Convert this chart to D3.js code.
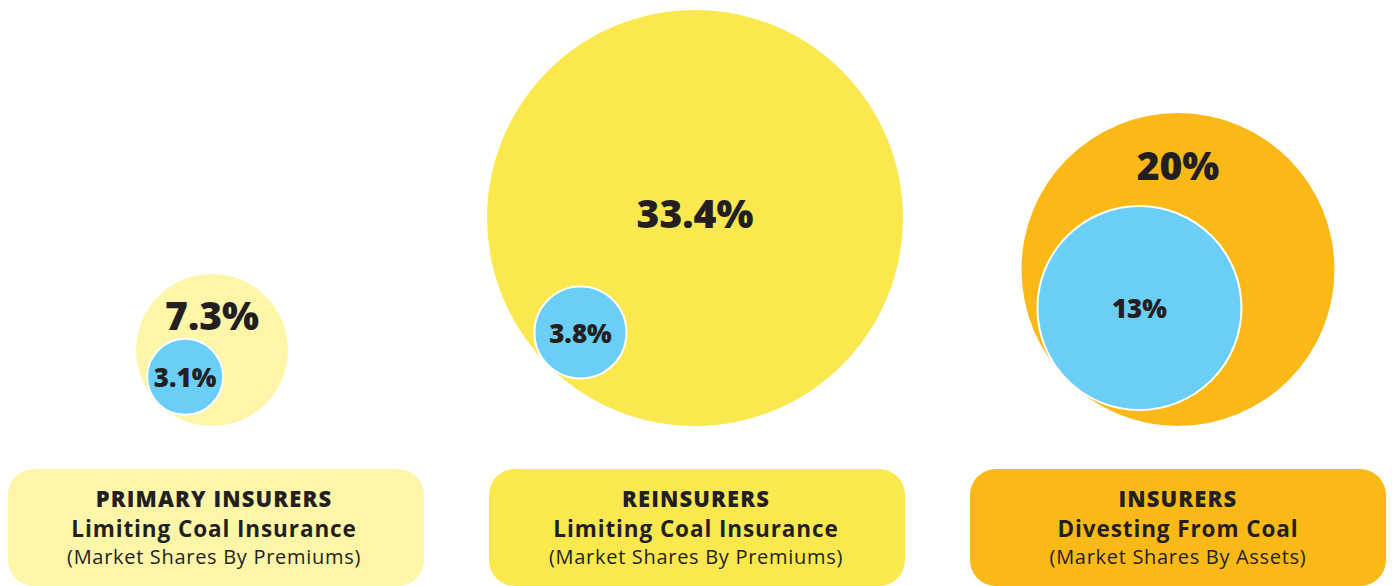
<!DOCTYPE html>
<html>
<head>
<meta charset="utf-8">
<script src="https://cdn.jsdelivr.net/npm/d3@7"></script>
<style>
  html, body { margin: 0; padding: 0; background: #fff; }
  svg { display: block; }
</style>
</head>
<body>
<div id="chart"></div>
<script>
// data
const panels = ["primary", "reinsurers", "insurers"];
const outerValues = [7.3, 33.4, 20];
const innerValues = [3.1, 3.8, 13];
const titleLines = ["PRIMARY INSURERS", "REINSURERS", "INSURERS"];
const subtitleLines = ["Limiting Coal Insurance", "Limiting Coal Insurance", "Divesting From Coal"];
const noteLines = ["(Market Shares By Premiums)", "(Market Shares By Premiums)", "(Market Shares By Assets)"];

// look
const outerColors = ["#fdf6a8", "#fae84e", "#fbb917"];
const innerColor = "#6acef6";
const ink = "#231f20";

const width = 1392, height = 586;
const baseY = 426;          // circles sit on this line
const outerLabelShift = [-0.45, -0.02, -0.66]; // label offset as share of radius
const circleNudge = [-4, -2, 0];

const svg = d3.select("#chart")
    .append("svg")
    .attr("width", width)
    .attr("height", height);

const x = d3.scaleBand()
    .domain(panels)
    .range([8, 1386])
    .paddingInner(0.135)
    .paddingOuter(0);

// the original isn't drawn to one area scale, so map each value to the radius it was given
const r = d3.scaleLinear()
    .domain([0, 3.1, 3.8, 7.3, 13, 20, 33.4])
    .range([0, 38, 46, 76, 102, 156.5, 208]);

const fmt = v => `${v}%`;

const g = svg.selectAll("g.panel")
    .data(panels)
    .join("g")
    .attr("class", "panel");

g.each(function (p, i) {
    const sel = d3.select(this);
    const cx = x(p) + x.bandwidth() / 2 + circleNudge[i];
    const R = r(outerValues[i]);
    const cy = baseY - R;
    const ri = r(innerValues[i]);
    // inner circle tucked into the lower-left of the outer one
    const d = (R - ri) / Math.SQRT2;
    const icx = cx - d, icy = cy + d;

    sel.append("circle")
        .attr("cx", cx).attr("cy", cy).attr("r", R)
        .attr("fill", outerColors[i]);

    sel.append("circle")
        .attr("cx", icx).attr("cy", icy).attr("r", ri)
        .attr("fill", innerColor)
        .attr("stroke", "#fff")
        .attr("stroke-width", 2);

    sel.append("text")
        .attr("x", cx)
        .attr("y", cy + outerLabelShift[i] * R)
        .attr("dy", "0.36em")
        .attr("text-anchor", "middle")
        .style("font-family", "'Open Sans', sans-serif")
        .style("font-weight", 800)
        .style("font-size", "39px")
        .style("fill", ink)
        .text(fmt(outerValues[i]));

    sel.append("text")
        .attr("x", icx)
        .attr("y", icy + 1)
        .attr("dy", "0.36em")
        .attr("text-anchor", "middle")
        .style("font-family", "'Open Sans', sans-serif")
        .style("font-weight", 800)
        .style("font-size", "26px")
        .style("fill", ink)
        .text(fmt(innerValues[i]));

    // caption box
    const bx = x(p), bw = x.bandwidth();
    sel.append("rect")
        .attr("x", bx).attr("y", 469)
        .attr("width", bw).attr("height", 117)
        .attr("rx", 26)
        .attr("fill", outerColors[i]);

    const mid = bx + bw / 2 + circleNudge[i] / 2;
    const cap = sel.append("text")
        .attr("text-anchor", "middle")
        .style("font-family", "'Open Sans', sans-serif")
        .style("fill", ink);

    cap.append("tspan")
        .attr("x", mid).attr("y", 507)
        .style("font-weight", 800)
        .style("font-size", "22px")
        .style("letter-spacing", "1.1px")
        .text(titleLines[i]);
    cap.append("tspan")
        .attr("x", mid).attr("y", 537)
        .style("font-weight", 700)
        .style("font-size", "22.5px")
        .style("letter-spacing", "0.9px")
        .text(subtitleLines[i]);
    cap.append("tspan")
        .attr("x", mid).attr("y", 564)
        .style("font-weight", 500)
        .style("font-size", "20px")
        .style("letter-spacing", "0.7px")
        .text(noteLines[i]);
});
</script>
</body>
</html>
